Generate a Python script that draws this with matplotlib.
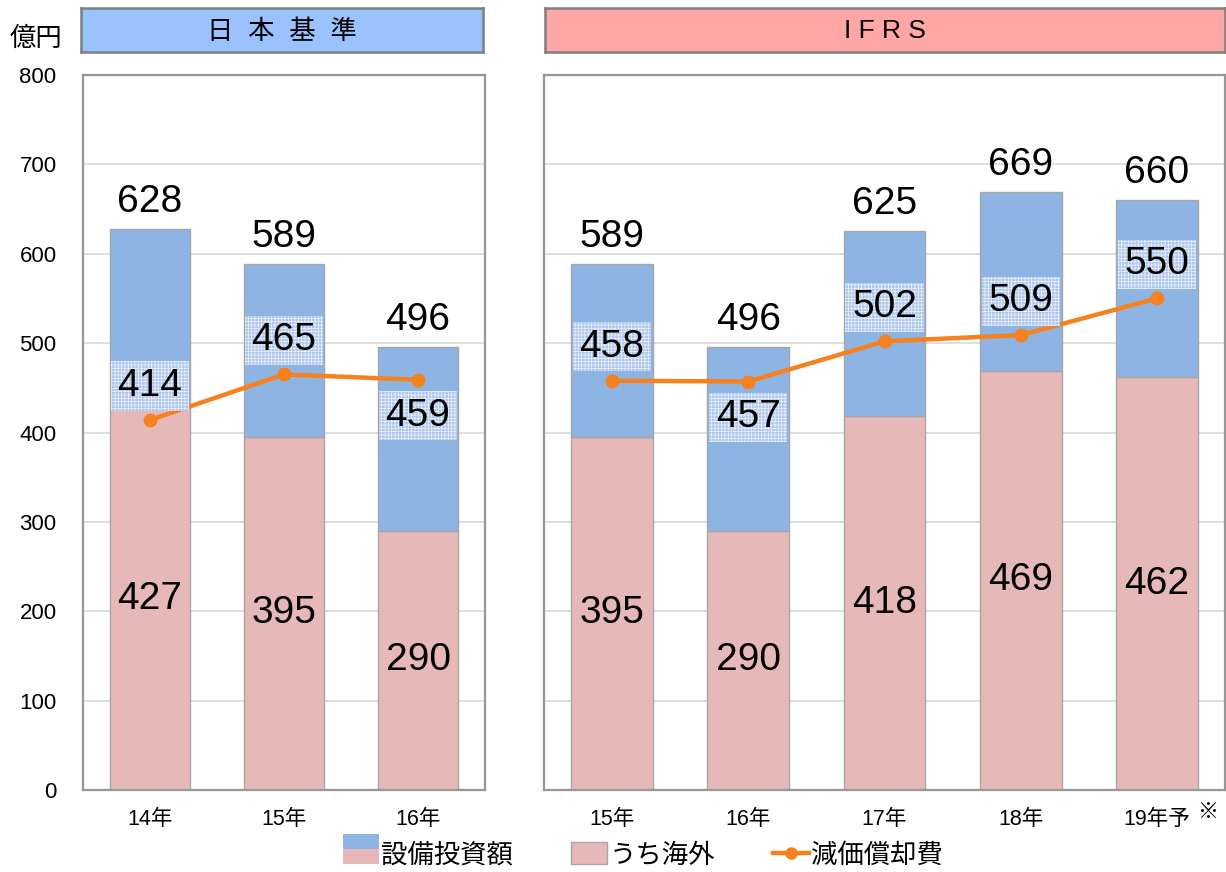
import matplotlib
matplotlib.use("Agg")
import matplotlib.pyplot as plt
import numpy as np
from matplotlib.patches import Rectangle
from matplotlib.lines import Line2D
from matplotlib.legend_handler import HandlerBase

plt.rcParams['font.family'] = ['Liberation Sans', 'Noto Sans CJK JP', 'DejaVu Sans']
plt.rcParams['hatch.linewidth'] = 0.5

# Data
jp_cats = ["14年", "15年", "16年"]
jp_total = [628, 589, 496]
jp_overseas = [427, 395, 290]
jp_dep = [414, 465, 459]

ifrs_cats = ["15年", "16年", "17年", "18年", "19年予"]
ifrs_total = [589, 496, 625, 669, 660]
ifrs_overseas = [395, 290, 418, 469, 462]
ifrs_dep = [458, 457, 502, 509, 550]

# label side for depreciation values: +1 above, -1 below
jp_dep_side = [1, 1, -1]
ifrs_dep_side = [1, -1, 1, 1, 1]

C_BLUE = '#8EB4E3'
C_PINK = '#E6B9B8'
C_LINE = '#F7811E'
C_EDGE = '#A6A6A6'
C_SPINE = '#969696'

W, H = 1226, 872
fig = plt.figure(figsize=(W/100, H/100), dpi=100)

def fx(px): return px / W
def fy(py): return 1 - py / H

ax1 = fig.add_axes([fx(83), fy(790), fx(485) - fx(83), fy(75) - fy(790)])
ax2 = fig.add_axes([fx(544), fy(790), fx(1225) - fx(544), fy(75) - fy(790)])

def draw(ax, cats, total, overseas, dep, side, show_y):
    x = np.arange(len(cats))
    other = np.array(total) - np.array(overseas)
    ax.bar(x, overseas, width=0.6, color=C_PINK, edgecolor=C_EDGE, linewidth=1, zorder=2)
    ax.bar(x, other, bottom=overseas, width=0.6, color=C_BLUE, edgecolor=C_EDGE, linewidth=1, zorder=2)
    ax.plot(x, dep, color=C_LINE, lw=3.2, marker='o', ms=9, zorder=4)
    ax.set_xlim(-0.5, len(cats) - 0.5)
    ax.set_ylim(0, 800)
    ax.set_yticks(np.arange(0, 801, 100))
    ax.grid(axis='y', color='#D9D9D9', lw=1.2, zorder=0)
    ax.set_axisbelow(True)
    ax.set_xticks(x)
    ax.set_xticklabels(cats, fontsize=15.5)
    ax.tick_params(length=0)
    ax.tick_params(axis='x', pad=14)
    if show_y:
        ax.tick_params(axis='y', labelsize=16, pad=19)
    else:
        ax.tick_params(axis='y', labelleft=False)
    for sp in ax.spines.values():
        sp.set_color(C_SPINE)
        sp.set_linewidth(1.6)
    for i in range(len(cats)):
        ax.text(x[i], total[i] + 10, str(total[i]), ha='center', va='bottom', fontsize=28, zorder=5)
        ax.text(x[i], overseas[i] / 2, str(overseas[i]), ha='center', va='center', fontsize=28, zorder=5)
        off = 38 if side[i] > 0 else -40
        ax.text(x[i], dep[i] + off, str(dep[i]), ha='center', va='center', fontsize=28, zorder=5,
                bbox=dict(boxstyle='square,pad=0.17', facecolor='#AFC8EB', edgecolor='#EAF1FB',
                          linewidth=0, hatch='+++++'))

draw(ax1, jp_cats, jp_total, jp_overseas, jp_dep, jp_dep_side, True)
draw(ax2, ifrs_cats, ifrs_total, ifrs_overseas, ifrs_dep, ifrs_dep_side, False)

# Header boxes
def header(x0, x1, color, label):
    hax = fig.add_axes([fx(x0), fy(52), fx(x1) - fx(x0), fy(8) - fy(52)])
    hax.set_facecolor(color)
    hax.set_xticks([]); hax.set_yticks([])
    for sp in hax.spines.values():
        sp.set_color('#7F7F7F'); sp.set_linewidth(1.8)
    hax.text(0.5, 0.47, label, ha='center', va='center', fontsize=19, transform=hax.transAxes)

header(81, 483, '#99C2FF', "日  本  基  準")
header(545, 1225, '#FFA6A6', "I F R S")

fig.text(fx(36), fy(39), "億円", ha='center', va='center', fontsize=19)
fig.text(fx(1208), fy(812), "※", ha='center', va='center', fontsize=15)

# Legend
class SplitHandler(HandlerBase):
    def create_artists(self, legend, orig, xd, yd, width, height, fontsize, trans):
        top = yd + height * 1.2
        bot = yd - height * 0.15
        mid = (top + bot) / 2
        r1 = Rectangle((xd, mid), width, top - mid, facecolor=C_BLUE, edgecolor='none', transform=trans)
        r2 = Rectangle((xd, bot), width, mid - bot, facecolor=C_PINK, edgecolor='none', transform=trans)
        return [r1, r2]

h1 = Rectangle((0, 0), 1, 1)
h2 = Rectangle((0, 0), 1, 1, facecolor=C_PINK, edgecolor=C_EDGE)
h3 = Line2D([], [], color=C_LINE, lw=3.2, marker='o', ms=8)
fig.legend([h1, h2, h3], ["設備投資額", "うち海外", "減価償却費"],
           handler_map={h1: SplitHandler()}, loc='center', bbox_to_anchor=(fx(643), fy(855)),
           ncol=3, frameon=False, fontsize=19, handlelength=1.35, handleheight=0.9,
           columnspacing=2.2, handletextpad=0.1)

fig.savefig("out.png", dpi=100)
